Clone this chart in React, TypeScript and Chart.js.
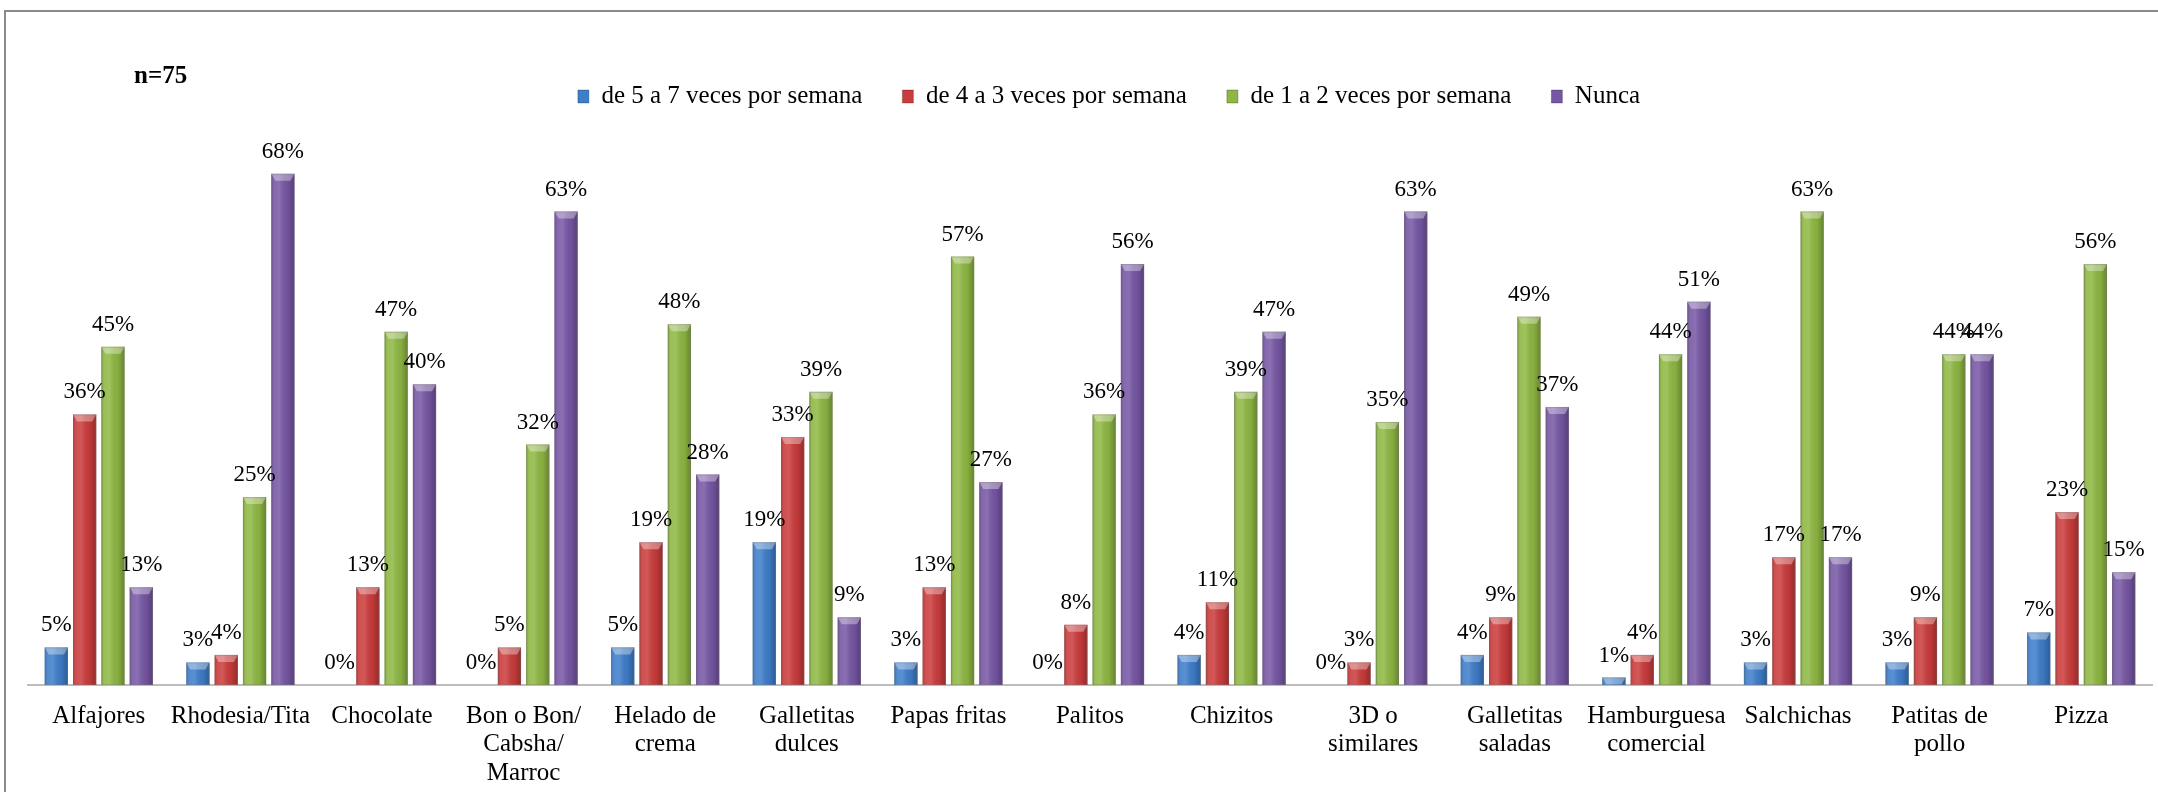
import React, { useEffect, useRef } from "react";
import { Chart, registerables } from "chart.js";

Chart.register(...registerables);

const categories: (string | string[])[] = [
  "Alfajores",
  "Rhodesia/Tita",
  "Chocolate",
  ["Bon o Bon/", "Cabsha/", "Marroc"],
  ["Helado de", "crema"],
  ["Galletitas", "dulces"],
  "Papas fritas",
  "Palitos",
  "Chizitos",
  ["3D o", "similares"],
  ["Galletitas", "saladas"],
  ["Hamburguesa", "comercial"],
  "Salchichas",
  ["Patitas de", "pollo"],
  "Pizza",
];

const seriesNames = [
  "de 5 a 7 veces por semana",
  "de 4 a 3 veces por semana",
  "de 1 a 2 veces por semana",
  "Nunca",
];

const de5a7 = [5, 3, 0, 0, 5, 19, 3, 0, 4, 0, 4, 1, 3, 3, 7];
const de4a3 = [36, 4, 13, 5, 19, 33, 13, 8, 11, 3, 9, 4, 17, 9, 23];
const de1a2 = [45, 25, 47, 32, 48, 39, 57, 36, 39, 35, 49, 44, 63, 44, 56];
const nunca = [13, 68, 40, 63, 28, 9, 27, 56, 47, 63, 37, 51, 17, 44, 15];

const colors = ["#3F7ECB", "#CB3C3C", "#8FB843", "#7757A5"];
const FONT = '"Liberation Serif", "Times New Roman", serif';
const sampleNote = "n=75";

const barStylePlugin = {
  id: "barStyle",
  afterDatasetsDraw(chart: any) {
    const ctx = chart.ctx;
    chart.data.datasets.forEach((ds: any, di: number) => {
      const meta = chart.getDatasetMeta(di);
      meta.data.forEach((bar: any) => {
        const { x, y, base, width } = bar.getProps(["x", "y", "base", "width"], true);
        const left = x - width / 2;
        const h = base - y;
        if (h <= 0.5) return;
        ctx.save();
        const g = ctx.createLinearGradient(left, 0, left + width, 0);
        g.addColorStop(0, "rgba(0,0,0,0.18)");
        g.addColorStop(0.12, "rgba(255,255,255,0.10)");
        g.addColorStop(0.35, "rgba(255,255,255,0.14)");
        g.addColorStop(0.7, "rgba(0,0,0,0.05)");
        g.addColorStop(1, "rgba(0,0,0,0.28)");
        ctx.fillStyle = g;
        ctx.fillRect(left, y, width, h);
        const cap = Math.min(7, h);
        ctx.beginPath();
        ctx.moveTo(left, y);
        ctx.lineTo(left + width, y);
        ctx.lineTo(left + width - 4, y + cap);
        ctx.lineTo(left + 4, y + cap);
        ctx.closePath();
        ctx.fillStyle = "rgba(255,255,255,0.35)";
        ctx.fill();
        ctx.strokeStyle = "rgba(120,120,120,0.35)";
        ctx.lineWidth = 1;
        ctx.strokeRect(left + 0.5, y + 0.5, width - 1, h - 1);
        ctx.restore();
      });
    });
  },
};

const labelPlugin = {
  id: "valueLabels",
  afterDatasetsDraw(chart: any) {
    const ctx = chart.ctx;
    ctx.save();
    ctx.font = `23px ${FONT}`;
    ctx.fillStyle = "#000";
    ctx.textAlign = "center";
    ctx.textBaseline = "middle";
    chart.data.datasets.forEach((ds: any, di: number) => {
      const meta = chart.getDatasetMeta(di);
      meta.data.forEach((bar: any, i: number) => {
        const v = ds.data[i];
        ctx.fillText(`${v}%`, bar.x, bar.y - 22);
      });
    });
    ctx.restore();
  },
};

const notePlugin = {
  id: "note",
  afterDraw(chart: any) {
    const ctx = chart.ctx;
    ctx.save();
    ctx.font = `bold 25px ${FONT}`;
    ctx.fillStyle = "#000";
    ctx.textAlign = "left";
    ctx.textBaseline = "middle";
    ctx.fillText(sampleNote, chart.chartArea.left + 106, 77);
    ctx.restore();
  },
};

const legendShiftPlugin = {
  id: "legendShift",
  afterLayout(chart: any) {
    const lg = chart.legend;
    if (lg) {
      lg.left += 19;
      lg.right += 19;
    }
  },
};

export default function App() {
  const ref = useRef<HTMLCanvasElement | null>(null);

  useEffect(() => {
    document.body.style.margin = "0";
    document.body.style.overflow = "hidden";
    const seriesData = [de5a7, de4a3, de1a2, nunca];
    const chart = new Chart(ref.current as HTMLCanvasElement, {
      type: "bar",
      data: {
        labels: categories,
        datasets: seriesData.map((d, i) => ({
          label: seriesNames[i],
          data: d,
          backgroundColor: colors[i],
          borderWidth: 0,
          categoryPercentage: 0.8,
          barPercentage: 0.82,
        })),
      },
      options: {
        animation: false,
        responsive: false,
        layout: { padding: { left: 28, right: 6, top: 44, bottom: 0 } },
        plugins: {
          legend: {
            display: true,
            position: "top",
            labels: {
              font: { family: FONT, size: 25 },
              color: "#000",
              boxWidth: 11,
              boxHeight: 13,
              padding: 40,
              generateLabels: (c: any) =>
                c.data.datasets.map((ds: any, i: number) => ({
                  text: ds.label,
                  fillStyle: colors[i],
                  strokeStyle: "rgba(0,0,0,0.25)",
                  lineWidth: 1,
                  datasetIndex: i,
                  hidden: false,
                  fontColor: "#000",
                })),
            },
          },
          tooltip: { enabled: false },
        },
        scales: {
          x: {
            grid: { display: false },
            border: { display: true, color: "#BDBDBD", width: 2 },
            ticks: {
              font: { family: FONT, size: 25, lineHeight: 1.14 },
              color: "#000",
              autoSkip: false,
              maxRotation: 0,
              minRotation: 0,
              padding: 9,
            },
            afterFit: (s: any) => {
              s.height = 107;
            },
          },
          y: {
            display: false,
            min: 0,
            max: 75.3,
          },
        },
      },
      plugins: [barStylePlugin, labelPlugin, notePlugin, legendShiftPlugin],
    });
    return () => chart.destroy();
  }, []);

  return (
    <div style={{ position: "fixed", left: 0, top: 0, width: 2158, height: 792, background: "#fff" }}>
      <canvas ref={ref} width={2158} height={792} style={{ width: 2158, height: 792, display: "block" }} />
      <div
        style={{
          position: "absolute",
          left: 4,
          top: 10,
          width: 2200,
          height: 800,
          borderLeft: "2px solid #8A8A8A",
          borderTop: "2px solid #8A8A8A",
          pointerEvents: "none",
        }}
      />
    </div>
  );
}
